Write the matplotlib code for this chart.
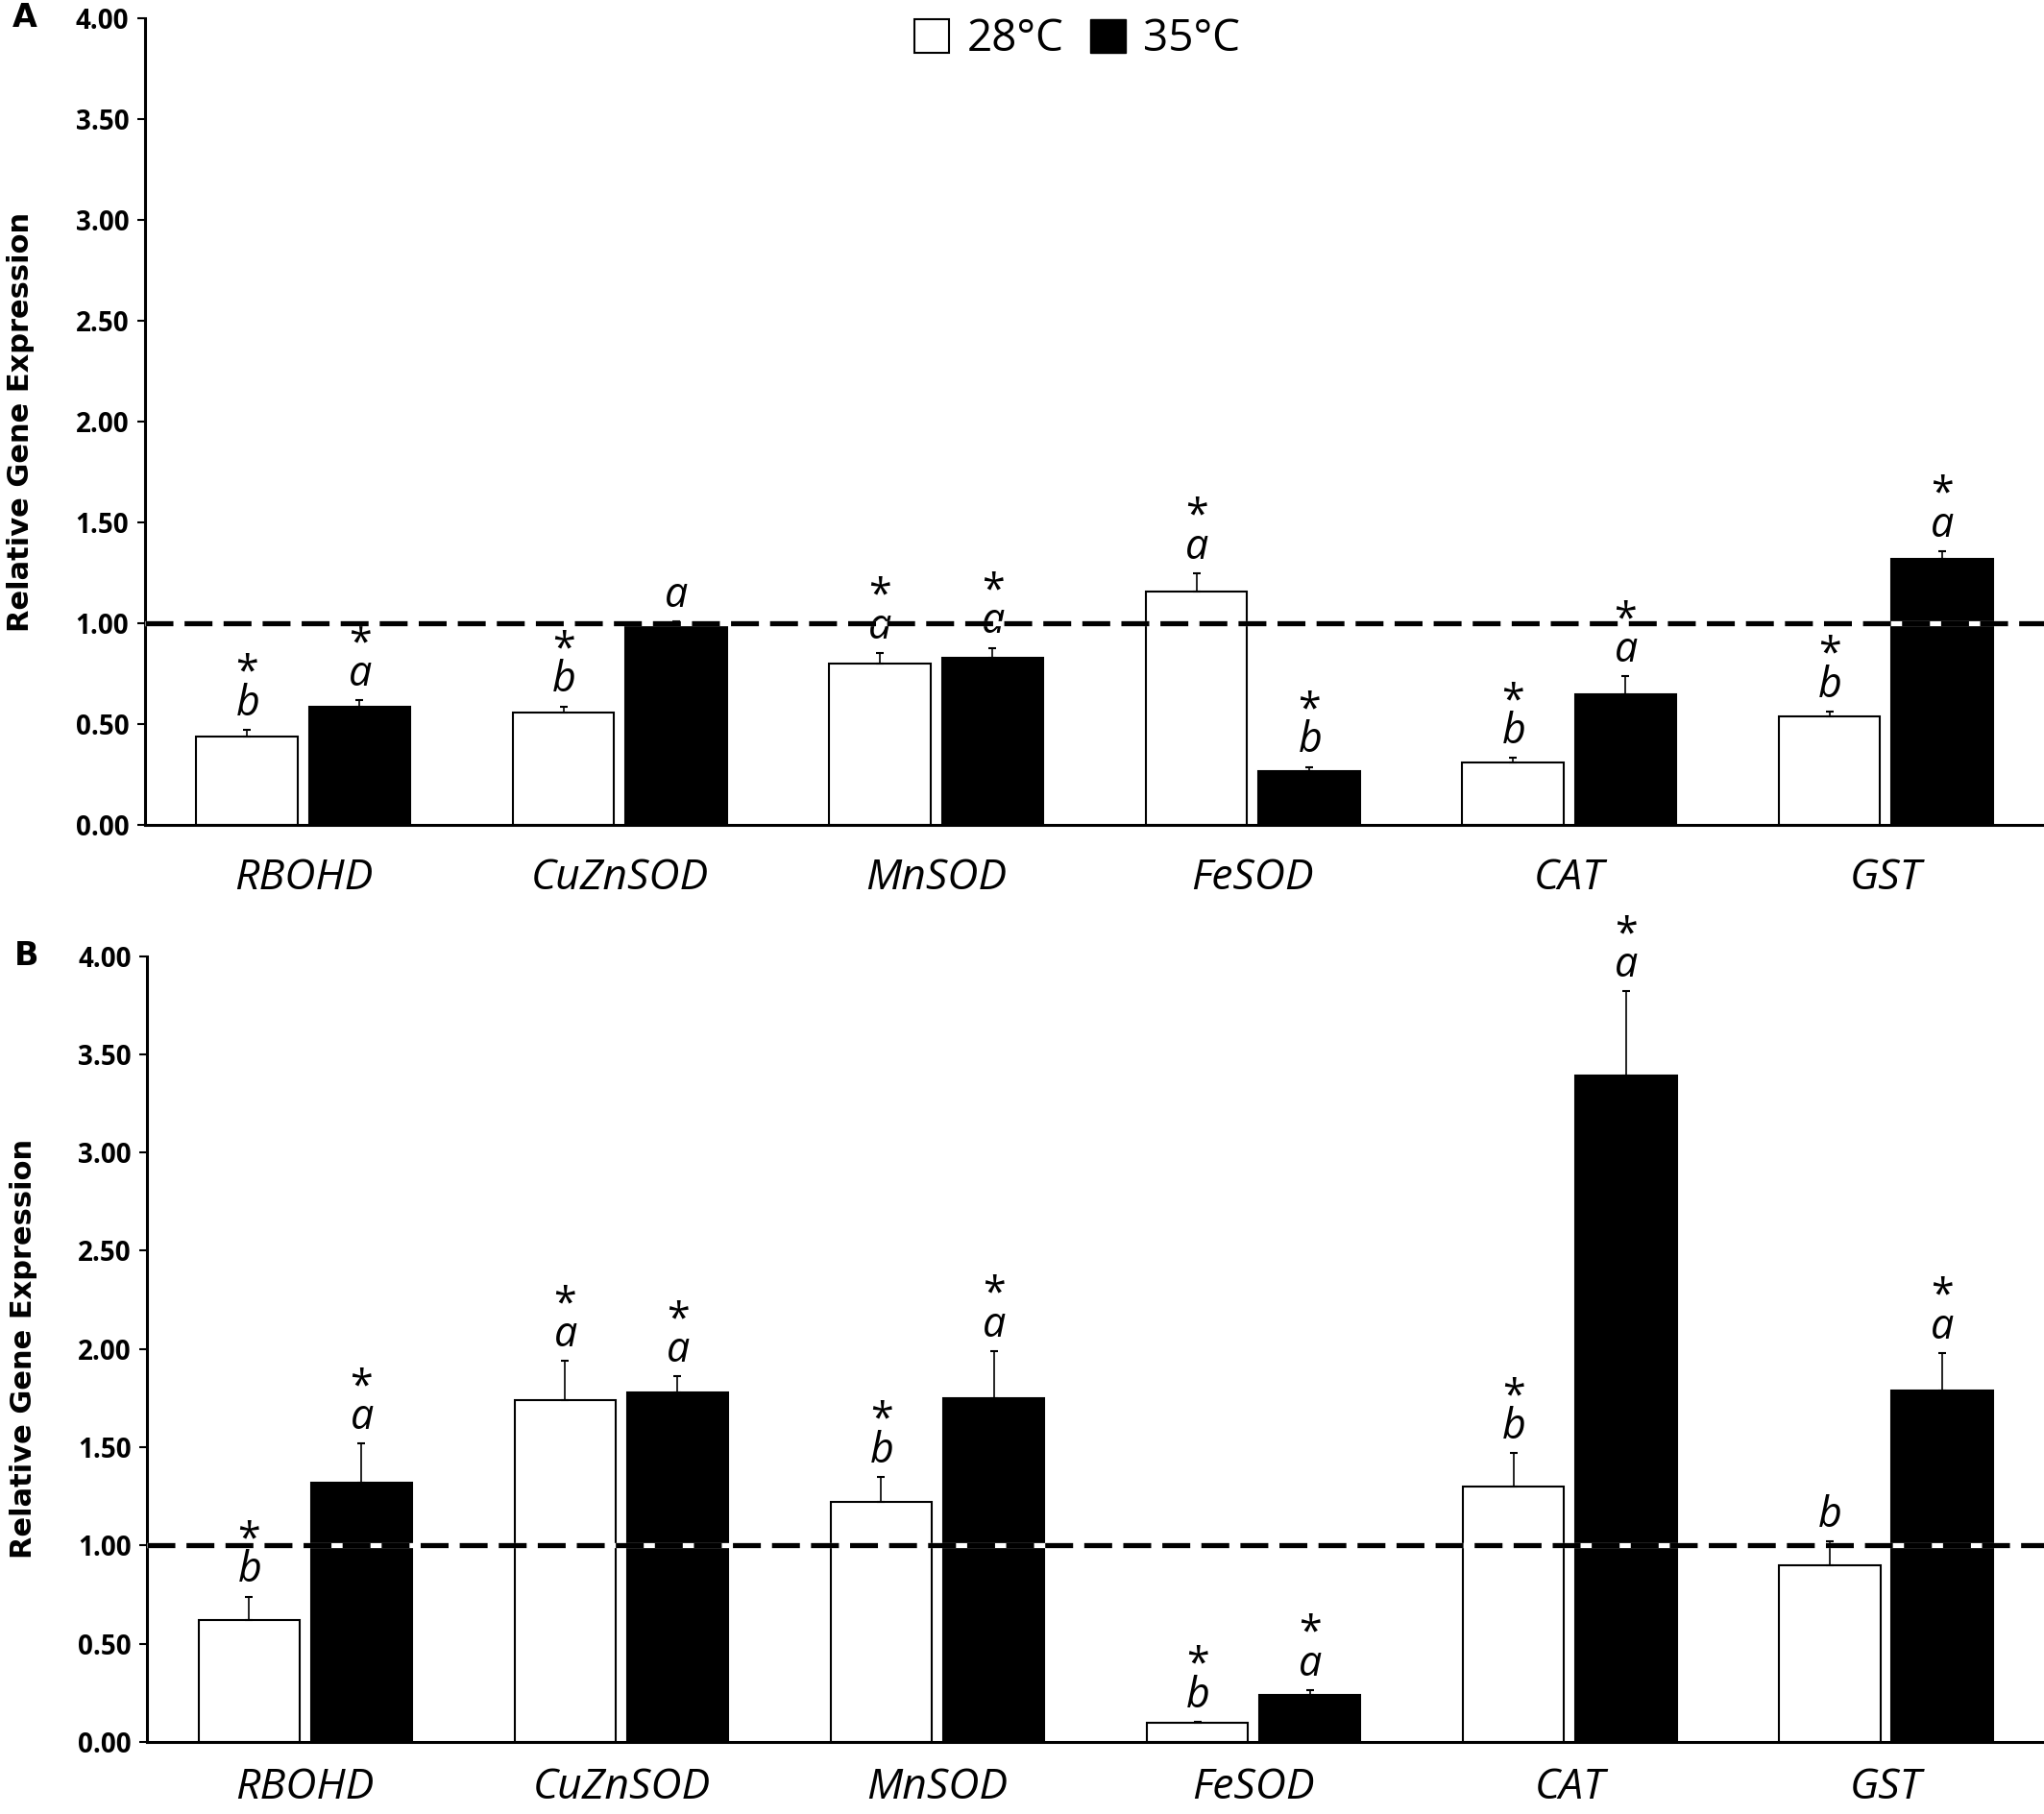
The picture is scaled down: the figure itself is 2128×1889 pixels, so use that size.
import matplotlib
matplotlib.use("Agg")
import matplotlib.pyplot as plt
import numpy as np
from matplotlib.patches import Patch

plt.rcParams['font.family'] = ['Open Sans', 'DejaVu Sans']
plt.rcParams['mathtext.fontset'] = 'custom'
plt.rcParams['mathtext.it'] = 'Open Sans:italic'
plt.rcParams['mathtext.rm'] = 'Open Sans'

genes = ['RBOHD', 'CuZnSOD', 'MnSOD', 'FeSOD', 'CAT', 'GST']

# panel A
a_28 = [0.44, 0.56, 0.80, 1.16, 0.31, 0.54]
a_28_err = [0.035, 0.03, 0.055, 0.09, 0.025, 0.025]
a_35 = [0.59, 0.99, 0.83, 0.27, 0.65, 1.32]
a_35_err = [0.03, 0.02, 0.05, 0.02, 0.09, 0.04]
a_28_let = ['b', 'b', 'a', 'a', 'b', 'b']
a_28_star = [True, True, True, True, True, True]
a_35_let = ['a', 'a', 'a', 'b', 'a', 'a']
a_35_star = [True, False, True, True, True, True]

# panel B
b_28 = [0.62, 1.74, 1.22, 0.10, 1.30, 0.90]
b_28_err = [0.12, 0.20, 0.13, 0.004, 0.17, 0.12]
b_35 = [1.32, 1.78, 1.75, 0.24, 3.39, 1.79]
b_35_err = [0.20, 0.08, 0.24, 0.025, 0.43, 0.19]
b_28_let = ['b', 'a', 'b', 'b', 'b', 'b']
b_28_star = [True, True, True, True, True, False]
b_35_let = ['a', 'a', 'a', 'a', 'a', 'a']
b_35_star = [True, True, True, True, True, True]

yticks = [0, 0.5, 1.0, 1.5, 2.0, 2.5, 3.0, 3.5, 4.0]

fig = plt.figure(figsize=(21.28, 18.89), dpi=100)
axA = fig.add_axes([0.071, 0.545, 0.929, 0.445])
axB = fig.add_axes([0.072, 0.0397, 0.928, 0.4333])

x = np.arange(len(genes))
w = 0.32
off = 0.178


def annotate(ax, xs, tops, letters, stars):
    for xi, t, l, s in zip(xs, tops, letters, stars):
        let = r'$\it{%s}$' % l
        txt = ('*\n' + let) if s else let
        ax.annotate(txt, (xi, t), xytext=(0, 3), textcoords='offset points',
                    ha='center', va='bottom', fontsize=31,
                    linespacing=0.62, multialignment='center')


def panel(ax, v28, e28, v35, e35, l28, s28, l35, s35, label):
    ax.bar(x - off, v28, w, color='white', edgecolor='black', linewidth=1.5, zorder=2)
    ax.bar(x + off, v35, w, color='black', edgecolor='black', linewidth=1.5, zorder=2)
    ax.errorbar(x - off, v28, yerr=[np.zeros(6), e28], fmt='none', ecolor='black',
                elinewidth=1.2, capsize=3, capthick=1.5, zorder=3)
    ax.errorbar(x + off, v35, yerr=[np.zeros(6), e35], fmt='none', ecolor='black',
                elinewidth=1.2, capsize=3, capthick=1.5, zorder=1)
    # reference line at 1
    ax.axhline(1.0, color='white', linewidth=3.8, zorder=4)
    ax.axhline(1.0, color='black', linewidth=3.8, dashes=(5.5, 2.2), zorder=5)
    annotate(ax, x - off, np.array(v28) + np.array(e28), l28, s28)
    annotate(ax, x + off, np.array(v35) + np.array(e35), l35, s35)
    ax.set_xlim(-0.5, 5.5)
    ax.set_ylim(0, 4.0)
    ax.set_yticks(yticks)
    ax.set_yticklabels(['%.2f' % t for t in yticks], fontsize=20, fontweight='bold')
    ax.set_xticks(x)
    ax.set_xticklabels(genes, fontsize=32, style='italic')
    ax.tick_params(axis='x', length=0, pad=24)
    ax.tick_params(axis='y', direction='out', length=6, width=1.5, pad=6)
    for sp in ['top', 'right']:
        ax.spines[sp].set_visible(False)
    for sp in ['left', 'bottom']:
        ax.spines[sp].set_linewidth(2.2)
    ax.set_ylabel('Relative Gene Expression', fontsize=22, fontweight='bold',
                  family='DejaVu Sans')
    ax.yaxis.set_label_coords(-0.058, 0.5)
    ax.text(-0.07, 1.0, label, transform=ax.transAxes, fontsize=24,
            fontweight='bold', family='DejaVu Sans', va='center', ha='left')


panel(axA, a_28, a_28_err, a_35, a_35_err, a_28_let, a_28_star, a_35_let, a_35_star, 'A')
panel(axB, b_28, b_28_err, b_35, b_35_err, b_28_let, b_28_star, b_35_let, b_35_star, 'B')
axB.tick_params(axis='x', pad=18)

handles = [Patch(facecolor='white', edgecolor='black', linewidth=1.5),
           Patch(facecolor='black', edgecolor='black')]
fig.legend(handles, ['28°C', '35°C'], loc='upper center', bbox_to_anchor=(0.527, 1.005),
           ncol=2, frameon=False, fontsize=33, handlelength=0.8, handleheight=0.8,
           handletextpad=0.4, columnspacing=0.6, borderaxespad=0.2)

fig.savefig('out.png', dpi=100)
